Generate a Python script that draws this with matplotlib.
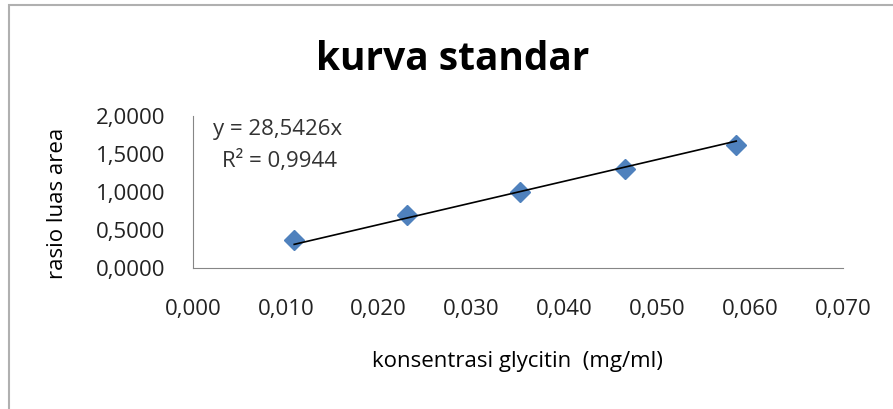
import matplotlib.pyplot as plt
import numpy as np
from matplotlib.ticker import FuncFormatter, MultipleLocator
from matplotlib.patches import Rectangle

# data
konsentrasi = [0.0109, 0.0230, 0.0352, 0.0465, 0.0585]
rasio = [0.37, 0.70, 1.00, 1.30, 1.62]
slope = 28.5426
r2 = 0.9944

plt.rcParams['font.family'] = ['Open Sans', 'DejaVu Sans']

W, H = 893, 409
fig = plt.figure(figsize=(W / 100, H / 100), dpi=100)
fig.patches.append(Rectangle((9 / W, -0.1), 1.1, 1 - 5 / H + 0.1, transform=fig.transFigure,
                             fill=False, edgecolor='#b0b0b0', linewidth=1.5))

a = fig.add_axes([193 / W, 1 - 268 / H, 650 / W, 152 / H])
a.plot(konsentrasi, rasio, linestyle='none', marker='D', markersize=10,
       color='#4f81bd', markeredgecolor='#4f81bd', zorder=3)
xfit = np.array([konsentrasi[0], konsentrasi[-1]])
a.plot(xfit, slope * xfit, color='black', linewidth=1.2, zorder=4)

a.set_xlim(0, 0.07)
a.set_ylim(0, 2.0)
a.xaxis.set_major_locator(MultipleLocator(0.01))
a.yaxis.set_major_locator(MultipleLocator(0.5))
a.xaxis.set_major_formatter(FuncFormatter(lambda v, p: ('%.3f' % v).replace('.', ',')))
a.yaxis.set_major_formatter(FuncFormatter(lambda v, p: ('%.4f' % v).replace('.', ',')))
a.tick_params(length=0, labelsize=16, colors='#222222')
a.tick_params(axis='x', pad=22)
a.tick_params(axis='y', pad=20)
for s in ['top', 'right']:
    a.spines[s].set_visible(False)
for s in ['left', 'bottom']:
    a.spines[s].set_color('#868686')
a.set_facecolor('none')

fig.text(517 / W, 1 - 361 / H, 'konsentrasi glycitin  (mg/ml)', fontsize=16,
         ha='center', va='center')
fig.text(58 / W, 1 - 203 / H, 'rasio luas area', fontsize=16, rotation=90,
         ha='center', va='center')

fig.text(453 / W, 1 - 70 / H, 'kurva standar', fontsize=28, fontweight='bold',
         ha='center', va='baseline')
fig.text(213 / W, 1 - 135 / H, 'y = 28,5426x', fontsize=16, va='baseline', color='#333333')
fig.text(222 / W, 1 - 167 / H, 'R² = 0,9944', fontsize=16, va='baseline', color='#333333')

fig.savefig('out.png', dpi=100)
